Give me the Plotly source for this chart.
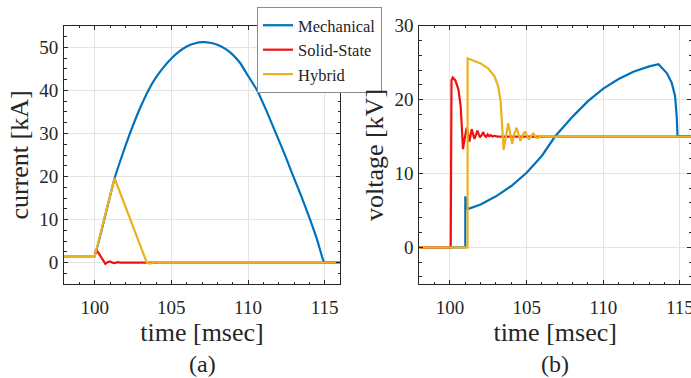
import plotly.graph_objects as go

# ---------------- data: current [kA] (panel a) ----------------
t_mech_i = [98, 99.95, 100, 101.3, 101.8, 102.3, 102.9, 103.5, 104.0, 104.5, 105.0, 105.5, 106.0,
            106.5, 107.1, 107.6, 108.0, 108.5, 109.0, 109.5, 110.0, 110.6, 111.2, 111.8, 112.4,
            112.96, 113.5, 114.05, 114.5, 114.9, 115.0, 115.1, 116.0]
i_mech = [1.5, 1.5, 1.5, 19.6, 25.0, 30.0, 35.4, 40.0, 43.0, 45.4, 47.4, 49.0, 50.2,
          50.9, 51.2, 51.0, 50.6, 49.7, 48.3, 46.3, 43.4, 40.0, 35.3, 30.2, 25.1,
          20.0, 15.2, 10.0, 5.4, 0.6, 0.0, 0.0, 0.0]

t_ss_i = [98, 100, 100.1, 100.3, 100.5, 100.7, 100.85, 101.0, 101.15, 101.3, 101.5, 101.7, 103.3, 116]
i_ss = [1.5, 1.5, 3.1, 2.0, 0.8, -0.3, 0.1, 0.3, 0.0, -0.1, 0.1, 0.0, 0.0, 0.0]

t_hyb_i = [98, 100, 101.3, 103.4, 103.6, 103.9, 104.2, 116]
i_hyb = [1.5, 1.5, 19.6, 0.0, -0.2, 0.1, 0.0, 0.0]

# ---------------- data: voltage [kV] (panel b) ----------------
t_mech_v = [98, 101.0, 101.0, 101.15, 101.2, 102.0, 103.0, 104.0, 105.0, 106.0, 106.85, 108.0,
            109.0, 110.0, 111.0, 112.0, 113.0, 113.6, 114.14, 114.46, 114.68, 114.79, 114.84, 116]
v_mech = [0, 0, 6.9, 5.2, 5.2, 5.8, 6.9, 8.3, 10.1, 12.4, 15.0, 17.7,
          19.8, 21.5, 22.8, 23.8, 24.5, 24.8, 23.6, 22.3, 20.5, 17.7, 15.1, 15.0]

t_ss_v = [98, 100.05, 100.1, 100.18, 100.35, 100.55, 100.7, 100.8, 100.85, 100.95, 101.09, 101.18,
          101.26, 101.34, 101.42, 101.5, 101.59, 101.69, 101.79, 101.88, 101.96, 102.06, 102.17,
          102.27, 102.36, 102.46, 102.56, 102.66, 102.76, 102.9, 103.1, 116]
v_ss = [0, 0, 22.6, 23.0, 22.6, 21.4, 19.1, 15.5, 13.3, 14.6, 16.2, 15.4,
        14.3, 15.1, 16.0, 15.4, 14.7, 15.2, 15.8, 15.3, 14.9, 15.2, 15.6,
        15.1, 14.95, 15.3, 15.05, 15.2, 15.0, 15.1, 15.0, 15.0]

t_hyb_v = [98, 101.15, 101.15, 101.5, 102.0, 102.5, 102.9, 103.15, 103.3, 103.4, 103.5, 103.65,
           103.8, 103.95, 104.05, 104.2, 104.35, 104.5, 104.6, 104.75, 104.9, 105.05, 105.15,
           105.3, 105.45, 105.6, 105.75, 105.9, 106.1, 116]
v_hyb = [0, 0, 25.6, 25.3, 24.9, 24.2, 23.2, 21.8, 19.8, 16.5, 13.2, 15.0,
         16.8, 15.2, 14.0, 15.4, 16.2, 15.1, 14.4, 15.2, 15.7, 15.0, 14.6,
         15.1, 15.4, 14.9, 14.8, 15.1, 15.0, 15.0]

series_names = ["Mechanical", "Solid-State", "Hybrid"]
colors = ["#0072BD", "#EE1111", "#EDB120"]

x_ticks = [100, 105, 110, 115]
yi_ticks = [0, 10, 20, 30, 40, 50]
yv_ticks = [0, 10, 20, 30]

FONT = "Liberation Serif"
TXT = "#262626"
LW = 2.2

fig = go.Figure()
cur = [(t_mech_i, i_mech), (t_ss_i, i_ss), (t_hyb_i, i_hyb)]
vol = [(t_mech_v, v_mech), (t_ss_v, v_ss), (t_hyb_v, v_hyb)]
for k in range(3):
    shape = "spline" if k == 0 else "linear"
    fig.add_trace(go.Scatter(x=cur[k][0], y=cur[k][1], mode="lines", name=series_names[k],
                             line=dict(color=colors[k], width=LW, shape=shape, smoothing=0.4),
                             xaxis="x", yaxis="y"))
for k in range(3):
    fig.add_trace(go.Scatter(x=vol[k][0], y=vol[k][1], mode="lines", name=series_names[k],
                             line=dict(color=colors[k], width=LW), xaxis="x2", yaxis="y2",
                             showlegend=False))

W, H = 691, 378
top_px, bot_px = 25.8, 284.2
ydom = [1 - bot_px / H, 1 - top_px / H]

def xax(domain, rng, anchor):
    return dict(domain=domain, range=rng, tickvals=x_ticks, ticks="inside", ticklen=4,
                tickcolor=TXT, showline=True, linecolor=TXT, linewidth=1, mirror="ticks",
                showgrid=True, gridcolor="#e3e3e3", gridwidth=1, zeroline=False, anchor=anchor,
                tickfont=dict(family=FONT, size=19, color=TXT), ticklabelstandoff=6,
                ticklabeloverflow="allow",
                minor=dict(ticks="inside", ticklen=2.5, dtick=1, tick0=0, tickcolor=TXT, showgrid=False),
                title=dict(text="time [msec]", font=dict(family=FONT, size=26, color=TXT), standoff=4))

def yax(rng, ticks, minor_dt, title, anchor):
    return dict(domain=ydom, range=rng, tickvals=ticks, ticks="inside", ticklen=4,
                tickcolor=TXT, showline=True, linecolor=TXT, linewidth=1, mirror="ticks",
                showgrid=True, gridcolor="#e3e3e3", gridwidth=1, zeroline=False, anchor=anchor,
                tickfont=dict(family=FONT, size=19, color=TXT), ticklabelstandoff=1,
                minor=dict(ticks="inside", ticklen=2.5, dtick=minor_dt, tick0=0, tickcolor=TXT, showgrid=False),
                title=dict(text=title, font=dict(family=FONT, size=26, color=TXT), standoff=3))

fig.update_layout(
    width=W, height=H, margin=dict(l=0, r=0, t=0, b=0, autoexpand=False),
    paper_bgcolor="white", plot_bgcolor="white",
    font=dict(family=FONT, color=TXT),
    xaxis=xax([64 / W, 340 / W], [98, 116], "y"),
    yaxis=yax([-5, 55], yi_ticks, 2.5, "current [kA]", "x"),
    xaxis2=xax([419.3 / W, 1], [98, 115.72], "y2"),
    yaxis2=yax([-5, 30], yv_ticks, 2, "voltage [kV]", "x2"),
    legend=dict(x=257 / W, y=1 - 7 / H, xanchor="left", yanchor="top",
                bgcolor="white", bordercolor="#8c8c8c", borderwidth=1,
                font=dict(family=FONT, size=16.5, color=TXT), tracegroupgap=0, itemwidth=30),
    showlegend=True,
)

for lab, xr, yr in [("(a)", "x domain", "y domain"), ("(b)", "x2 domain", "y2 domain")]:
    fig.add_annotation(text=lab, x=0.5, y=-(364 - bot_px) / (bot_px - top_px), xref=xr, yref=yr,
                       showarrow=False, font=dict(family=FONT, size=24, color=TXT),
                       xanchor="center", yanchor="middle")

fig.write_html("out.html", config={"displayModeBar": False},
               post_script="document.body.style.margin='0';document.body.style.padding='0';")
